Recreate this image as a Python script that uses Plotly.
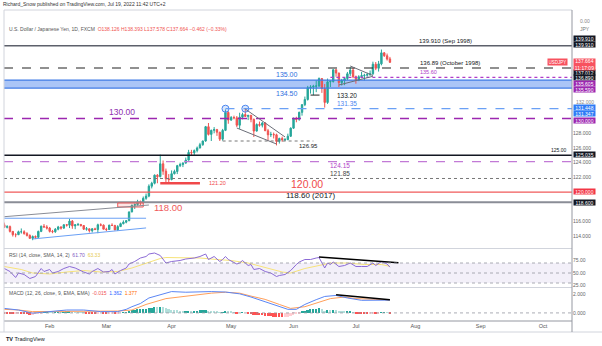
import pandas as pd
import plotly.graph_objects as go

# ---------------- data ----------------
DATES = pd.bdate_range("2022-01-03", "2022-07-19")

OPEN = [115.08, 115.30, 116.12, 116.10, 115.85, 115.55, 115.20, 115.30, 114.65, 114.20,
        114.20, 114.60, 114.60, 114.35, 114.10, 113.70, 113.95, 113.85, 114.65, 115.35,
        115.25, 115.10, 114.65, 114.60, 114.95, 115.25, 115.10, 115.55, 115.50, 116.05,
        115.40, 115.55, 115.60, 115.45, 114.95, 115.00, 114.75, 115.00, 114.90, 115.55,
        115.50, 114.95, 114.90, 115.50, 115.45, 114.85, 115.30, 115.70, 115.90, 116.10,
        117.30, 118.20, 118.30, 118.70, 118.60, 119.15, 119.45, 120.80, 121.20, 122.30,
        122.10, 123.85, 122.85, 121.80, 121.70, 122.50, 122.80, 123.60, 123.75, 123.95,
        124.35, 125.40, 125.35, 125.65, 126.00, 126.45, 126.95, 128.90, 127.85, 128.40,
        128.50, 128.15, 127.20, 128.40, 130.85, 129.80, 130.15, 130.10, 129.10, 130.20,
        130.55, 130.30, 130.45, 129.90, 128.30, 129.20, 129.10, 129.40, 128.35, 127.80,
        127.85, 127.80, 126.90, 127.30, 127.10, 127.15, 127.60, 128.70, 130.00, 129.90,
        130.85, 131.90, 132.60, 134.20, 134.30, 134.40, 134.45, 135.45, 134.10, 132.20,
        135.00, 135.05, 136.65, 136.20, 134.90, 135.20, 135.45, 136.10, 136.60, 135.70,
        135.20, 135.70, 135.85, 135.90, 136.00, 136.10, 137.40, 136.85, 137.45, 138.95,
        138.55, 138.126]
HIGH = [115.40, 116.35, 116.20, 116.30, 116.05, 115.85, 115.50, 115.45, 114.70, 114.40,
        114.75, 115.05, 114.80, 114.55, 114.25, 114.10, 114.10, 114.75, 115.45, 115.65,
        115.50, 115.25, 114.85, 115.10, 115.40, 115.35, 115.60, 115.65, 116.35, 116.20,
        115.60, 115.80, 115.65, 115.50, 115.25, 115.05, 115.10, 115.15, 115.70, 115.75,
        115.60, 115.15, 115.55, 115.75, 115.55, 115.50, 115.85, 116.15, 116.20, 117.35,
        118.30, 118.45, 118.95, 118.85, 119.40, 119.80, 121.05, 121.40, 122.40, 122.45,
        125.10, 124.30, 123.20, 122.45, 122.95, 123.05, 123.70, 124.00, 124.05, 124.70,
        125.75, 125.75, 125.80, 126.20, 126.70, 127.00, 129.00, 129.40, 128.50, 128.85,
        128.60, 128.20, 128.60, 131.25, 131.00, 130.35, 130.40, 130.35, 130.80, 130.80,
        131.35, 130.45, 130.50, 130.00, 129.35, 129.60, 129.55, 129.50, 128.60, 128.20,
        128.10, 127.95, 127.40, 127.55, 127.35, 127.95, 128.80, 130.15, 130.25, 130.95,
        131.95, 133.00, 134.45, 134.55, 134.60, 135.20, 135.60, 135.50, 134.70, 135.45,
        135.20, 136.70, 136.70, 136.25, 135.40, 135.50, 136.35, 137.00, 136.90, 135.85,
        135.90, 136.35, 136.10, 136.25, 136.55, 137.75, 137.70, 137.85, 139.40, 139.05,
        138.85, 138.393]
LOW = [115.00, 115.20, 115.70, 115.60, 115.50, 115.20, 115.05, 114.50, 113.95, 113.85,
       114.15, 114.35, 114.20, 113.95, 113.65, 113.45, 113.60, 113.75, 114.55, 115.15,
       114.90, 114.50, 114.40, 114.45, 114.80, 114.90, 115.00, 115.30, 115.10, 115.00,
       114.95, 115.40, 115.30, 114.85, 114.75, 114.50, 114.50, 114.85, 114.40, 115.35,
       114.95, 114.70, 114.85, 115.40, 114.80, 114.70, 115.25, 115.60, 115.75, 116.05,
       117.25, 117.70, 118.15, 118.20, 118.45, 118.95, 119.30, 120.50, 121.05, 121.20,
       122.00, 122.35, 121.20, 121.30, 121.60, 122.40, 122.45, 123.40, 123.40, 123.85,
       124.30, 124.95, 125.05, 125.40, 125.95, 126.30, 126.85, 127.70, 126.95, 128.00,
       127.65, 126.95, 127.00, 128.30, 129.30, 129.70, 129.90, 128.85, 128.60, 129.90,
       130.40, 129.80, 129.50, 127.50, 128.25, 128.90, 128.80, 128.30, 127.00, 127.50,
       127.30, 126.35, 126.60, 126.85, 126.95, 127.05, 127.50, 128.60, 129.50, 129.70,
       130.40, 131.70, 132.45, 133.40, 133.20, 133.60, 134.30, 133.50, 131.50, 132.00,
       134.30, 134.90, 135.70, 134.30, 134.50, 134.55, 135.25, 135.80, 135.50, 134.75,
       135.10, 135.50, 135.20, 135.70, 135.80, 135.95, 136.60, 136.40, 137.25, 138.40,
       137.90, 137.578]
CLOSE = [115.30, 116.12, 116.10, 115.85, 115.55, 115.20, 115.30, 114.65, 114.20, 114.20,
         114.60, 114.60, 114.35, 114.10, 113.70, 113.95, 113.85, 114.65, 115.35, 115.25,
         115.10, 114.65, 114.60, 114.95, 115.25, 115.10, 115.55, 115.50, 116.05, 115.40,
         115.55, 115.60, 115.45, 114.95, 115.00, 114.75, 115.00, 114.90, 115.55, 115.50,
         114.95, 114.90, 115.50, 115.45, 114.85, 115.30, 115.70, 115.90, 116.10, 117.30,
         118.20, 118.30, 118.70, 118.60, 119.15, 119.45, 120.80, 121.20, 122.30, 122.10,
         123.85, 122.85, 121.80, 121.70, 122.50, 122.80, 123.60, 123.75, 123.95, 124.35,
         125.40, 125.35, 125.65, 126.00, 126.45, 126.95, 128.90, 127.85, 128.40, 128.50,
         128.15, 127.20, 128.40, 130.85, 129.80, 130.15, 130.10, 129.10, 130.20, 130.55,
         130.30, 130.45, 129.90, 128.30, 129.20, 129.10, 129.40, 128.35, 127.80, 127.85,
         127.80, 126.90, 127.30, 127.10, 127.15, 127.60, 128.70, 130.00, 129.90, 130.85,
         131.90, 132.60, 134.20, 134.30, 134.40, 134.45, 135.45, 134.10, 132.20, 135.00,
         135.05, 136.65, 136.20, 134.90, 135.20, 135.45, 136.10, 136.60, 135.70, 135.20,
         135.70, 135.85, 135.90, 136.00, 136.10, 137.40, 136.85, 137.45, 138.95, 138.55,
         138.10, 137.664]

RSI_DATES = ["2022-01-10", "2022-01-12", "2022-01-14", "2022-01-17", "2022-01-19", "2022-01-21",
             "2022-01-25", "2022-01-27", "2022-01-28",
             "2022-02-01", "2022-02-02", "2022-02-04", "2022-02-08", "2022-02-10", "2022-02-14",
             "2022-02-15", "2022-02-17", "2022-02-21", "2022-02-22", "2022-02-24", "2022-02-28",
             "2022-03-02", "2022-03-03", "2022-03-04", "2022-03-08", "2022-03-10", "2022-03-11",
             "2022-03-15", "2022-03-17", "2022-03-21", "2022-03-22", "2022-03-24", "2022-03-28",
             "2022-03-30", "2022-03-31",
             "2022-04-01", "2022-04-06", "2022-04-08", "2022-04-13", "2022-04-15", "2022-04-19",
             "2022-04-20", "2022-04-22", "2022-04-26", "2022-04-27", "2022-04-28", "2022-04-29",
             "2022-05-04", "2022-05-05", "2022-05-06", "2022-05-10", "2022-05-11", "2022-05-12",
             "2022-05-16", "2022-05-18", "2022-05-20", "2022-05-24", "2022-05-25", "2022-05-27",
             "2022-05-31",
             "2022-06-02", "2022-06-03", "2022-06-07", "2022-06-09", "2022-06-13", "2022-06-14",
             "2022-06-16", "2022-06-17", "2022-06-20", "2022-06-21", "2022-06-23", "2022-06-27",
             "2022-06-29",
             "2022-07-01", "2022-07-05", "2022-07-07", "2022-07-11", "2022-07-12", "2022-07-14",
             "2022-07-15", "2022-07-18", "2022-07-19"]
RSI_VALUES = [59, 53, 41, 50, 47, 39, 43, 59, 53,
              57, 50, 53, 59, 63, 60, 57, 52, 48, 53, 59, 52,
              53, 57, 48, 55, 60, 68, 73, 80, 83, 88, 90, 85, 70, 72,
              73, 75, 78, 80, 83, 88, 77, 83, 73, 77, 83, 77,
              68, 70, 75, 65, 67, 57, 59, 53, 50, 43, 45, 47, 55,
              67, 72, 77, 77, 80, 81, 60, 70, 67, 72, 63, 65, 70,
              63, 63, 63, 70, 65, 73, 70, 68, 61.70]

RSI_SMA_DATES = ["2022-01-10", "2022-01-18", "2022-01-24", "2022-02-01", "2022-02-09", "2022-02-17",
                 "2022-02-25", "2022-03-07", "2022-03-14", "2022-03-21", "2022-03-28", "2022-03-30",
                 "2022-04-07", "2022-04-15", "2022-04-25", "2022-05-02", "2022-05-10", "2022-05-18",
                 "2022-05-26", "2022-05-31", "2022-06-07", "2022-06-14", "2022-06-20", "2022-06-28",
                 "2022-07-06", "2022-07-14", "2022-07-19"]
RSI_SMA_VALUES = [63, 57, 50, 48, 52, 55, 52, 53, 60, 70, 79, 81, 81, 80, 77, 75, 70, 61,
                  52, 50, 59, 65, 70, 70, 67, 67, 63.33]

MACD_DATES = ["2022-01-10", "2022-01-17", "2022-01-24", "2022-02-01", "2022-02-09", "2022-02-17",
              "2022-02-25", "2022-03-07", "2022-03-10", "2022-03-14", "2022-03-17", "2022-03-22",
              "2022-03-29", "2022-04-01", "2022-04-08", "2022-04-15", "2022-04-21", "2022-04-28",
              "2022-05-05", "2022-05-11", "2022-05-18", "2022-05-25", "2022-05-30", "2022-06-02",
              "2022-06-07", "2022-06-13", "2022-06-16", "2022-06-22", "2022-06-28", "2022-07-05",
              "2022-07-12", "2022-07-19"]
MACD_VALUES = [0.48, 0.31, -0.03, 0.14, 0.31, 0.31, 0.14, 0.14, 0.38, 0.66, 1.00, 1.59,
               2.03, 2.27, 2.20, 2.25, 2.27, 2.22, 2.03, 1.69, 1.18, 0.66, 0.38, 0.38,
               0.90, 1.41, 1.75, 1.86, 1.59, 1.34, 1.34, 1.362]

SIGNAL_DATES = ["2022-01-10", "2022-01-17", "2022-01-24", "2022-02-01", "2022-02-09", "2022-02-17",
                "2022-02-25", "2022-03-07", "2022-03-14", "2022-03-21", "2022-03-30", "2022-04-07",
                "2022-04-15", "2022-04-21", "2022-04-28", "2022-05-05", "2022-05-11", "2022-05-18",
                "2022-05-25", "2022-05-31", "2022-06-07", "2022-06-14", "2022-06-20", "2022-06-27",
                "2022-07-01", "2022-07-12", "2022-07-19"]
SIGNAL_VALUES = [0.38, 0.31, 0.14, 0.14, 0.20, 0.20, 0.14, 0.20, 0.31, 0.90, 1.52, 1.75,
                 1.93, 2.10, 2.20, 2.10, 1.79, 1.44, 0.90, 0.48, 0.66, 1.18, 1.52, 1.69,
                 1.52, 1.44, 1.377]

HIST_DATES = pd.bdate_range("2022-01-10", "2022-07-19")
HIST_VALUES = [-0.05, -0.08, -0.12, -0.15, -0.14, -0.12, -0.13, -0.15, -0.16, -0.18,
               -0.17, -0.15, -0.10, -0.02, 0.03, 0.05,
               0.03, 0.02, 0.04, 0.07, 0.06, 0.08, 0.10, 0.12, 0.09,
               0.08, 0.07, 0.05, 0.01, -0.02, -0.05, -0.05, -0.05, -0.02, 0.00, -0.04,
               -0.05, -0.03, -0.02, -0.05, -0.04, 0.00, 0.04, 0.08, 0.18,
               0.28, 0.33, 0.38, 0.38, 0.42, 0.44, 0.52, 0.55, 0.60, 0.58,
               0.68, 0.62, 0.50, 0.40,
               0.35, 0.30, 0.28, 0.25, 0.22, 0.22, 0.25, 0.24, 0.24, 0.25, 0.26,
               0.27, 0.34, 0.25, 0.22, 0.20, 0.14, 0.05, 0.06, 0.16, 0.12,
               0.10, 0.07, -0.02, 0.00, 0.02, 0.00, -0.02, -0.06, -0.18, -0.20,
               -0.22, -0.22, -0.28, -0.34, -0.38, -0.40, -0.48, -0.48, -0.48, -0.46,
               -0.40, -0.30,
               -0.18, -0.12, -0.02, 0.10, 0.20, 0.35, 0.42, 0.46, 0.46, 0.52, 0.40, 0.22, 0.30,
               0.28, 0.32, 0.28, 0.15, 0.12, 0.10, 0.12, 0.12, 0.04,
               -0.05, -0.08, -0.10, -0.12, -0.12, -0.11, -0.05, -0.06, -0.03, 0.06, 0.06,
               0.03, -0.015]

# price levels / drawings
LEVEL_SEP1998 = 139.91
LEVEL_OCT1998 = 136.89
LEVEL_135_60 = 135.60
BAND_135 = [134.16, 135.25]
LEVEL_133_20 = 133.20
LEVEL_131_35 = 131.35
LEVEL_130 = 130.00
LEVEL_126_95 = 126.95
LEVEL_125 = 125.00
LEVEL_124_15 = 124.15
LEVEL_121_85 = 121.85
LEVEL_121_20 = 121.20
LEVEL_120 = 120.00
LEVEL_118_60 = 118.60
BOX_118 = [117.97, 118.52]
CIRCLE_DATES = ["2022-04-28", "2022-05-09"]
TREND_LINES = [  # (date0, price0, date1, price1, colour)
    ("2022-01-10", 116.65, "2022-03-22", 118.24, "#8a8d96"),
    ("2022-01-10", 116.44, "2022-03-21", 116.44, "#6aa0f5"),
    ("2022-01-24", 113.62, "2022-03-21", 115.12, "#6aa0f5"),
    ("2022-05-04", 128.72, "2022-05-24", 126.54, "#6b6e78"),
    ("2022-05-09", 131.30, "2022-05-27", 127.50, "#6b6e78"),
    ("2022-06-29", 137.16, "2022-07-11", 135.86, "#6b6e78"),
    ("2022-06-23", 134.57, "2022-07-11", 135.76, "#6b6e78"),
]
RSI_TREND = ("2022-06-14", 82.0, "2022-07-22", 70.6)
MACD_TREND = ("2022-06-22", 1.93, "2022-07-19", 1.41)

MONTH_TICKS = ["2022-02-01", "2022-03-01", "2022-04-01", "2022-05-02", "2022-06-01",
               "2022-07-01", "2022-08-01", "2022-09-01", "2022-10-03"]
MONTH_LABELS = ["Feb", "Mar", "Apr", "May", "Jun", "Jul", "Aug", "Sep", "Oct"]
PRICE_TICKS = [114, 116, 122, 124, 126, 128]

# ---------------- styling ----------------
GREEN = "#26a69a"
RED = "#ef5350"
PURPLE = "#9c27b0"
DARK = "#131722"
FONT = "Liberation Sans"
W, H = 602, 346
ML, MR, MT, MB = 4, 30, 10, 25
PH = H - MT - MB
PW = W - ML - MR


def py(ypx):
    return (H - MB - ypx) / PH


def px(xpx):
    return (xpx - ML) / PW


XRANGE = ["2022-01-07 21:30", "2022-10-17 05:00"]
RB = [dict(bounds=["sat", "mon"])]

fig = go.Figure()

fig.add_trace(go.Candlestick(
    x=DATES, open=OPEN, high=HIGH, low=LOW, close=CLOSE,
    increasing=dict(line=dict(color=GREEN, width=1), fillcolor=GREEN),
    decreasing=dict(line=dict(color=RED, width=1), fillcolor=RED),
    whiskerwidth=0, showlegend=False, hoverinfo="skip", xaxis="x", yaxis="y"))

fig.add_trace(go.Scatter(
    x=CIRCLE_DATES, y=[LEVEL_131_35] * len(CIRCLE_DATES), mode="markers",
    marker=dict(size=7, color="rgba(106,160,245,0.25)", line=dict(color="#4a86f0", width=1)),
    showlegend=False, hoverinfo="skip", xaxis="x", yaxis="y"))

# RSI
fig.add_trace(go.Scatter(x=RSI_SMA_DATES, y=RSI_SMA_VALUES, mode="lines",
                         line=dict(color="#f7e37a", width=1), showlegend=False,
                         hoverinfo="skip", xaxis="x2", yaxis="y2"))
fig.add_trace(go.Scatter(x=RSI_DATES, y=RSI_VALUES, mode="lines",
                         line=dict(color="#8c6bd6", width=1), showlegend=False,
                         hoverinfo="skip", xaxis="x2", yaxis="y2"))
fig.add_trace(go.Scatter(x=[RSI_TREND[0], RSI_TREND[2]], y=[RSI_TREND[1], RSI_TREND[3]],
                         mode="lines", line=dict(color="black", width=1.5), showlegend=False,
                         hoverinfo="skip", xaxis="x2", yaxis="y2"))

# MACD
hist_colors = []
prev = 0.0
for v in HIST_VALUES:
    if v >= 0:
        hist_colors.append("#26a69a" if v >= prev else "#b2dfdb")
    else:
        hist_colors.append("#ff5252" if v <= prev else "#ffcdd2")
    prev = v
fig.add_trace(go.Bar(x=HIST_DATES, y=HIST_VALUES, marker=dict(color=hist_colors, line=dict(width=0)),
                     width=0.62 * 86400000, showlegend=False, hoverinfo="skip",
                     xaxis="x3", yaxis="y3"))
fig.add_trace(go.Scatter(x=SIGNAL_DATES, y=SIGNAL_VALUES, mode="lines",
                         line=dict(color="#ff9f5a", width=1), showlegend=False,
                         hoverinfo="skip", xaxis="x3", yaxis="y3"))
fig.add_trace(go.Scatter(x=MACD_DATES, y=MACD_VALUES, mode="lines",
                         line=dict(color="#5b86f5", width=1), showlegend=False,
                         hoverinfo="skip", xaxis="x3", yaxis="y3"))
fig.add_trace(go.Scatter(x=[MACD_TREND[0], MACD_TREND[2]], y=[MACD_TREND[1], MACD_TREND[3]],
                         mode="lines", line=dict(color="black", width=1.5), showlegend=False,
                         hoverinfo="skip", xaxis="x3", yaxis="y3"))

shapes = []


def hline(level, color, width=1, dash="solid", x0=0, x1=1, xref="paper", yref="y"):
    shapes.append(dict(type="line", xref=xref, yref=yref, x0=x0, x1=x1, y0=level, y1=level,
                       line=dict(color=color, width=width, dash=dash), layer="above"))


# blue zone
shapes.append(dict(type="rect", xref="paper", yref="y", x0=0, x1=1, y0=BAND_135[0], y1=BAND_135[1],
                   fillcolor="rgba(100,150,240,0.55)", line=dict(width=0), layer="below"))
hline(BAND_135[0], "#3f7be6", 1.2)
hline(BAND_135[1], "#3f7be6", 1.2)

hline(LEVEL_SEP1998, "#5d606b", 1.6)
hline(LEVEL_OCT1998, "#222", 1.2, "dash")
hline(LEVEL_135_60, "#b03cc8", 1.2, "dot", x0="2022-06-20", x1=XRANGE[1], xref="x")
hline(LEVEL_133_20, "#222", 1, "dash", x0="2022-06-09", x1="2022-06-17", xref="x")
hline(LEVEL_131_35, "#6aa0f5", 1.2, "dash", x0="2022-04-28", x1=XRANGE[1], xref="x")
hline(LEVEL_130, PURPLE, 1.5, "dash")
hline(LEVEL_126_95, "#777", 1, "dot", x0="2022-04-27", x1="2022-06-10", xref="x")
hline(LEVEL_125, "#131722", 1.5)
hline(LEVEL_124_15, "#c27ad6", 1.3, "dash")
hline(LEVEL_121_85, "#777", 1, "dot")
hline(LEVEL_121_20, "#f0484a", 2.5, x0="2022-03-28", x1="2022-04-15", xref="x")
hline(LEVEL_120, "#f05a5a", 1.2)
hline(LEVEL_118_60, "#8a8d96", 2)
shapes.append(dict(type="rect", xref="x", yref="y", x0="2022-03-07", x1="2022-03-18",
                   y0=BOX_118[0], y1=BOX_118[1], fillcolor="rgba(239,83,80,0.15)",
                   line=dict(color="#f05a5a", width=1)))
for d0, p0, d1, p1, c in TREND_LINES:
    shapes.append(dict(type="line", xref="x", yref="y", x0=d0, y0=p0, x1=d1, y1=p1,
                       line=dict(color=c, width=1)))

# RSI band and guides
shapes.append(dict(type="rect", xref="paper", yref="y2", x0=0, x1=1, y0=30, y1=70,
                   fillcolor="rgba(126,87,194,0.09)", line=dict(width=0), layer="below"))
for lv in (70, 50, 30):
    hline(lv, "#9598a1", 0.8, "dot", yref="y2")
hline(0, "#9598a1", 0.8, "dot", yref="y3")

# frame lines
FRAME = "#d1d4dc"
for ypx_ in (MT, 248.5, 287.5):
    shapes.append(dict(type="line", xref="paper", yref="paper", x0=0, x1=1, y0=py(ypx_), y1=py(ypx_),
                       line=dict(color=FRAME, width=1)))
shapes.append(dict(type="line", xref="paper", yref="paper", x0=0, x1=1, y0=0, y1=0,
                   line=dict(color="#9598a1", width=1)))
shapes.append(dict(type="line", xref="paper", yref="paper", x0=px(0), x1=px(W), y0=py(332), y1=py(332),
                   line=dict(color=FRAME, width=1)))
shapes.append(dict(type="line", xref="paper", yref="paper", x0=1, x1=1, y0=py(332), y1=1,
                   line=dict(color="#9598a1", width=1)))
shapes.append(dict(type="line", xref="paper", yref="paper", x0=0, x1=0, y0=py(332), y1=1,
                   line=dict(color=FRAME, width=1)))

ann = []


def text(x, y, s, size, color, xanchor="center", yanchor="middle", yref="y", xref="paper", yshift=0):
    ann.append(dict(x=x, y=y, xref=xref, yref=yref, text=s, showarrow=False,
                    xanchor=xanchor, yanchor=yanchor, yshift=yshift,
                    font=dict(family=FONT, size=size, color=color)))


text(px(445), LEVEL_SEP1998, "139.910 (Sep 1998)", 6, DARK, yanchor="bottom")
text(px(450), LEVEL_OCT1998, "136.89 (October 1998)", 6, DARK, yanchor="bottom")
text(px(428), LEVEL_135_60, "135.60", 5.5, "#b03cc8", yanchor="bottom")
text(px(287), BAND_135[1], "135.00", 7, "#2f6fe0", yanchor="bottom")
text(px(287), BAND_135[0], "134.50", 7, "#2f6fe0", yanchor="top")
text(px(335), LEVEL_133_20, "133.20", 6.5, DARK, xanchor="left")
text(px(347), LEVEL_131_35, "131.35", 6.5, "#4a86f0", yanchor="bottom")
text(px(122), LEVEL_130, "130.00", 8.5, "#8e2fb0", yanchor="bottom")
text(px(308), LEVEL_126_95, "126.95", 6, DARK, yanchor="top")
text(px(559), LEVEL_125, "125.00", 5, DARK, yanchor="bottom")
text(px(340), LEVEL_124_15, "124.15", 6.5, "#b040c8", yanchor="top", yshift=1.5)
text(px(340), LEVEL_121_85, "121.85", 6.5, "#444", yanchor="bottom", yshift=-0.5)
text(px(207), LEVEL_121_20, "121.20", 5.5, "#f0484a", xanchor="left")
text(px(307), LEVEL_120, "120.00", 10.5, "#f04a4a", yanchor="bottom")
text(px(311), LEVEL_118_60, "118.60 (2017)", 8, DARK, yanchor="bottom")
text(px(152), BOX_118[0], "118.00", 9.5, "#f05a5a", xanchor="left")

# headers
text(px(1), py(4), "Richard_Snow published on TradingView.com, Jul 19, 2022 11:42 UTC+2", 5, "#333",
     xanchor="left", yref="paper")
text(px(7), py(29),
     "U.S. Dollar / Japanese Yen, 1D, FXCM  <span style='color:#ef5350'>O138.126 H138.393 "
     "L137.578 C137.664 \u22120.462 (\u22120.33%)</span>", 5, "#555", xanchor="left", yref="paper")
text(px(7), py(255),
     "RSI (14, close, SMA, 14, 2)  <span style='color:#7e57c2'>61.70</span>  "
     "<span style='color:#e6c94a'>63.33</span>", 5, "#555", xanchor="left", yref="paper")
text(px(7), py(293),
     "MACD (12, 26, close, 9, EMA, EMA)  <span style='color:#ef5350'>-0.015</span>  "
     "<span style='color:#2962ff'>1.362</span>  <span style='color:#ff6d00'>1.377</span>",
     5, "#555", xanchor="left", yref="paper")
text(px(4), py(339), "<b>TV</b> TradingView", 5.5, "#131722", xanchor="left", yref="paper")

# price-scale boxes
BOXES = [(38.7, "139.910", "#131722"), (44.3, "139.910", "#131722"),
         (72.3, "137.012", "#131722"), (77.7, "136.890", "#131722"),
         (84.0, "135.605", "#9c27b0"), (89.3, "135.590", "#9c27b0"),
         (107.7, "131.448", "#2e7cf6"), (113.3, "131.347", "#2e7cf6"),
         (120.0, "130.000", "#9c27b0"), (154.0, "125.035", "#131722"),
         (191.3, "120.000", "#f23645"), (202.0, "118.600", "#131722")]
for ypx_, s, c in BOXES:
    ann.append(dict(x=1, y=py(ypx_), xref="paper", yref="paper", text=s, showarrow=False,
                    xanchor="left", yanchor="middle", xshift=0.5, bgcolor=c, width=21, height=5.3,
                    borderpad=0, font=dict(family=FONT, size=5, color="white")))
ann.append(dict(x=1, y=py(64), xref="paper", yref="paper", text="137.664<br>11:17:09",
                showarrow=False, xanchor="left", yanchor="middle", xshift=0.5, bgcolor="#f7525f",
                width=21, height=11, borderpad=0, font=dict(family=FONT, size=5, color="white")))
ann.append(dict(x=1, y=py(61.5), xref="paper", yref="paper", text="USDJPY", showarrow=False,
                xanchor="right", yanchor="middle", xshift=-4, bgcolor="#f7525f", height=5.3,
                borderpad=0.5, font=dict(family=FONT, size=4.5, color="white")))
text(px(585), py(29), "JPY", 5, "#777", yref="paper")
text(px(585), py(20.5), "0.00", 5, "#888", yref="paper")
text(px(585), py(101.8), "132.000", 5, "#888", yref="paper")

axis_common = dict(range=XRANGE, rangebreaks=RB, showgrid=False, zeroline=False,
                   showline=False, ticks="")
fig.update_layout(
    width=W, height=H, margin=dict(l=ML, r=MR, t=MT, b=MB),
    paper_bgcolor="white", plot_bgcolor="white", showlegend=False, bargap=0,
    font=dict(family=FONT, size=6, color="#555"),
    xaxis=dict(domain=[0, 1], anchor="y", showticklabels=False, rangeslider=dict(visible=False),
               **axis_common),
    xaxis2=dict(domain=[0, 1], anchor="y2", showticklabels=False, **axis_common),
    xaxis3=dict(domain=[0, 1], anchor="y3", showticklabels=True, tickvals=MONTH_TICKS,
                ticktext=MONTH_LABELS, tickfont=dict(size=5.5, color="#555"), **axis_common),
    yaxis=dict(domain=[py(248), 1], anchor="x", side="right", range=[112.39, 144.78],
               tickvals=PRICE_TICKS, ticktext=[f"{v:.3f}" for v in PRICE_TICKS],
               tickfont=dict(size=5, color="#666"), showgrid=False, zeroline=False, ticks=""),
    yaxis2=dict(domain=[py(287), py(249)], anchor="x2", side="right", range=[22, 98],
                tickvals=[25, 50, 75], ticktext=["25.00", "50.00", "75.00"],
                tickfont=dict(size=5, color="#666"), showgrid=False, zeroline=False, ticks=""),
    yaxis3=dict(domain=[0, py(288)], anchor="x3", side="right", range=[-0.86, 2.65],
                tickvals=[0, 2], ticktext=["0.000", "2.000"],
                tickfont=dict(size=5, color="#666"), showgrid=False, zeroline=False, ticks=""),
    shapes=shapes, annotations=ann,
)

fig.write_html("out.html")
